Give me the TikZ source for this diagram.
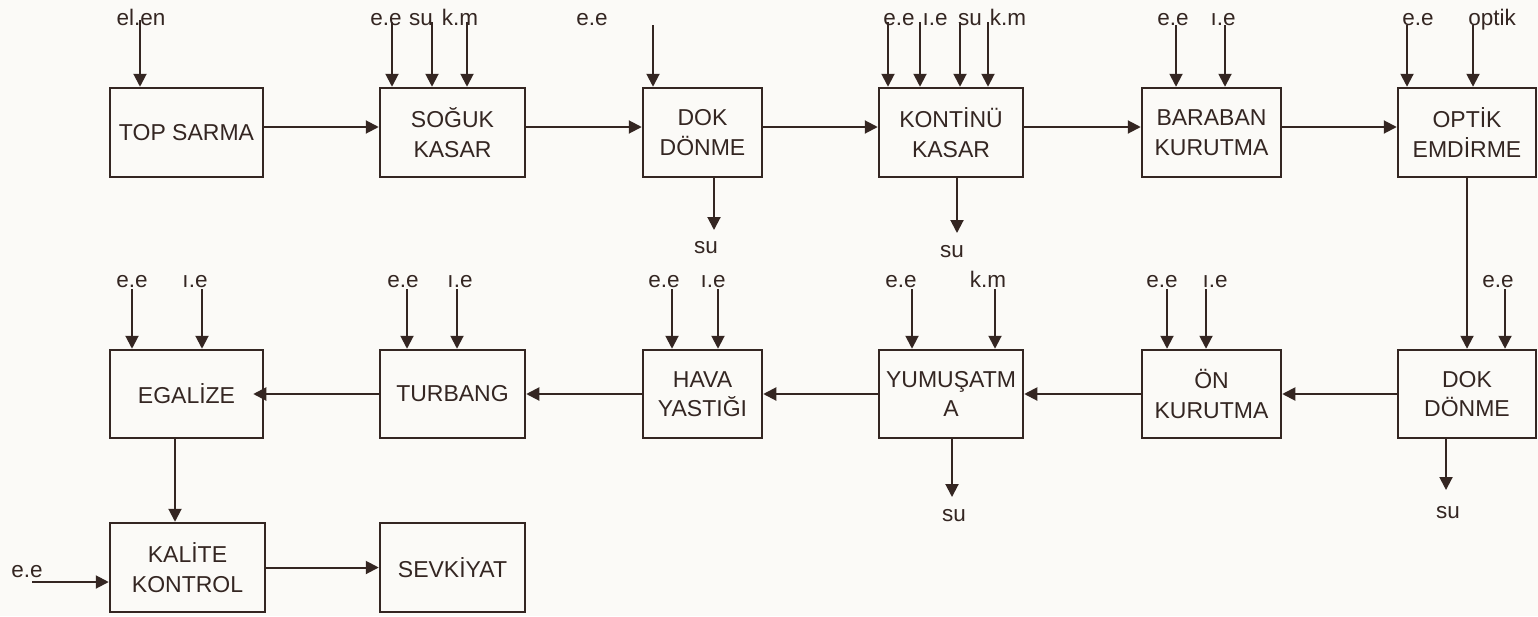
\documentclass[tikz,border=0pt]{standalone}
\usepackage{fontspec}
\setmainfont{Liberation Sans}
\usetikzlibrary{arrows.meta}
\definecolor{ink}{RGB}{52,38,34}
\definecolor{paper}{RGB}{251,250,247}
\begin{document}
\begin{tikzpicture}[x=1pt,y=-1pt,
  box/.style={draw=ink,line width=2.5pt,text=ink,align=center,inner sep=0pt,
    font=\fontsize{23}{29.5}\selectfont},
  lbl/.style={text=ink,anchor=base,inner sep=0pt,font=\fontsize{22.5}{27}\selectfont},
  arr/.style={draw=ink,line width=2pt,-{Triangle[length=13pt,width=13pt]}},
]
\fill[paper] (0,0) rectangle (1538,616);
\useasboundingbox (0,0) rectangle (1538,616);

% ---- row 1 boxes
\node[box,minimum width=153pt,minimum height=89pt] (top)  at (186.5,132.5) {TOP SARMA};
\node[box,minimum width=145pt,minimum height=89pt] (sk)   at (452.5,132.5) {SOĞUK\\KASAR};
\node[box,minimum width=119pt,minimum height=89pt] (dok1) at (702.5,132.5) {DOK\\DÖNME};
\node[box,minimum width=144pt,minimum height=89pt] (kon)  at (951,132.5)   {KONTİNÜ\\KASAR};
\node[box,minimum width=139pt,minimum height=89pt] (bar)  at (1211.5,132.5){BARABAN\\KURUTMA};
\node[box,minimum width=138pt,minimum height=89pt] (opt)  at (1467,132.5)  {OPTİK\\EMDİRME};

% ---- row 2 boxes
\node[box,minimum width=153pt,minimum height=88pt] (ega)  at (186.5,394) {EGALİZE};
\node[box,minimum width=145pt,minimum height=88pt] (tur)  at (452.5,394) {TURBANG};
\node[box,minimum width=119pt,minimum height=88pt] (hava) at (702.5,394) {HAVA\\YASTIĞI};
\node[box,minimum width=144pt,minimum height=88pt] (yum)  at (951,394)   {YUMUŞATM\\A};
\node[box,minimum width=139pt,minimum height=88pt] (on)   at (1211.5,394){ÖN\\KURUTMA};
\node[box,minimum width=138pt,minimum height=88pt] (dok2) at (1467,394)  {DOK\\DÖNME};

% ---- row 3 boxes
\node[box,minimum width=155pt,minimum height=89pt] (kal)  at (187.5,567.5) {KALİTE\\KONTROL};
\node[box,minimum width=145pt,minimum height=89pt] (sev)  at (452.5,567.5) {SEVKİYAT};

% ---- row 1 input labels
\node[lbl] (l1)  at (141,25)  {el.en};
\node[lbl] (l2)  at (386,25)  {e.e};
\node[lbl] (l3)  at (421,25)  {su};
\node[lbl] (l4)  at (460,25)  {k.m};
\node[lbl] (l5)  at (592,25)  {e.e};
\node[lbl] (l6)  at (899,25)  {e.e};
\node[lbl] (l7)  at (935,25)  {ı.e};
\node[lbl] (l8)  at (970,25)  {su};
\node[lbl] (l9)  at (1008,25) {k.m};
\node[lbl] (l10) at (1173,25) {e.e};
\node[lbl] (l11) at (1223,25) {ı.e};
\node[lbl] (l12) at (1418,25) {e.e};
\node[lbl] (l13) at (1492,25) {optik};

% ---- row 1 input arrows
\coordinate (a1)  at (140,20);
\coordinate (a2)  at (392,22);
\coordinate (a3)  at (432,22);
\coordinate (a4)  at (467,22);
\coordinate (a5)  at (653,25);
\coordinate (a6)  at (888,22);
\coordinate (a7)  at (920,22);
\coordinate (a8)  at (960,22);
\coordinate (a9)  at (988,22);
\coordinate (a10) at (1176,25);
\coordinate (a11) at (1225,25);
\coordinate (a12) at (1407,25);
\coordinate (a13) at (1473,25);
\draw[arr] (a1) -- (a1 |- top.north);
\foreach \c in {a2,a3,a4} \draw[arr] (\c) -- (\c |- sk.north);
\draw[arr] (a5) -- (a5 |- dok1.north);
\foreach \c in {a6,a7,a8,a9} \draw[arr] (\c) -- (\c |- kon.north);
\foreach \c in {a10,a11} \draw[arr] (\c) -- (\c |- bar.north);
\foreach \c in {a12,a13} \draw[arr] (\c) -- (\c |- opt.north);

% ---- row 1 flow
\draw[arr] (top.east |- 0,127) -- (sk.west |- 0,127);
\draw[arr] (sk.east |- 0,127) -- (dok1.west |- 0,127);
\draw[arr] (dok1.east |- 0,127) -- (kon.west |- 0,127);
\draw[arr] (kon.east |- 0,127) -- (bar.west |- 0,127);
\draw[arr] (bar.east |- 0,127) -- (opt.west |- 0,127);

% ---- row 1 outputs
\coordinate (o1) at (714,230);
\coordinate (o2) at (957,233);
\draw[arr] (o1 |- dok1.south) -- (o1);
\draw[arr] (o2 |- kon.south) -- (o2);
\node[lbl] (s1) at (706,253) {su};
\node[lbl] (s2) at (952,257) {su};

% ---- optik -> dok2
\coordinate (v1) at (1467,0);
\draw[arr] (opt.south -| v1) -- (dok2.north -| v1);

% ---- row 2 input labels
\node[lbl] (m1)  at (132,287)  {e.e};
\node[lbl] (m2)  at (195,287)  {ı.e};
\node[lbl] (m3)  at (403,287)  {e.e};
\node[lbl] (m4)  at (460,287)  {ı.e};
\node[lbl] (m5)  at (664,287)  {e.e};
\node[lbl] (m6)  at (713,287)  {ı.e};
\node[lbl] (m7)  at (901,287)  {e.e};
\node[lbl] (m8)  at (988,287)  {k.m};
\node[lbl] (m9)  at (1162,287) {e.e};
\node[lbl] (m10) at (1215,287) {ı.e};
\node[lbl] (m11) at (1498,287) {e.e};

% ---- row 2 input arrows
\coordinate (b1)  at (132,289);
\coordinate (b2)  at (202,289);
\coordinate (b3)  at (407,289);
\coordinate (b4)  at (457,289);
\coordinate (b5)  at (672,289);
\coordinate (b6)  at (718,289);
\coordinate (b7)  at (912,289);
\coordinate (b8)  at (995,289);
\coordinate (b9)  at (1167,289);
\coordinate (b10) at (1206,289);
\coordinate (b11) at (1505,289);
\foreach \c in {b1,b2} \draw[arr] (\c) -- (\c |- ega.north);
\foreach \c in {b3,b4} \draw[arr] (\c) -- (\c |- tur.north);
\foreach \c in {b5,b6} \draw[arr] (\c) -- (\c |- hava.north);
\foreach \c in {b7,b8} \draw[arr] (\c) -- (\c |- yum.north);
\foreach \c in {b9,b10} \draw[arr] (\c) -- (\c |- on.north);
\draw[arr] (b11) -- (b11 |- dok2.north);

% ---- row 2 flow (right to left)
\draw[arr] (dok2.west) -- (on.east);
\draw[arr] (on.west) -- (yum.east);
\draw[arr] (yum.west) -- (hava.east);
\draw[arr] (hava.west) -- (tur.east);
\draw[arr,shorten >=-11pt] (tur.west) -- (ega.east);

% ---- row 2 outputs
\coordinate (o3) at (952,497);
\coordinate (o4) at (1446,490);
\draw[arr] (o3 |- yum.south) -- (o3);
\draw[arr] (o4 |- dok2.south) -- (o4);
\node[lbl] (s3) at (954,521)  {su};
\node[lbl] (s4) at (1448,518) {su};

% ---- row 3
\coordinate (v2) at (175,0);
\draw[arr] (ega.south -| v2) -- (kal.north -| v2);
\draw[arr] (kal.east) -- (sev.west);
\node[lbl] (k1) at (27,577) {e.e};
\coordinate (ein) at (32,582);
\draw[arr] (ein) -- (ein -| kal.west);
\end{tikzpicture}
\end{document}
